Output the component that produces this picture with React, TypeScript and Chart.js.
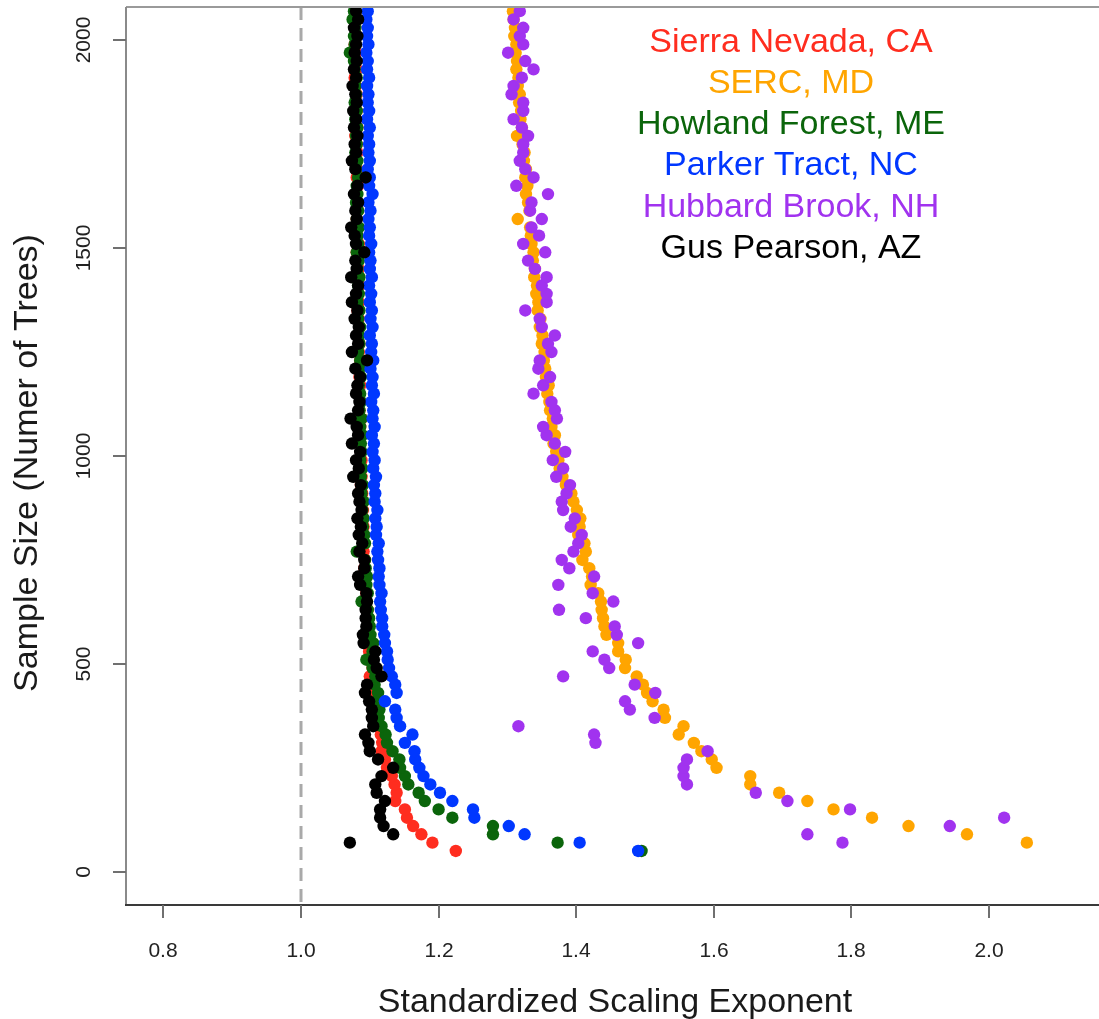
import React, { useEffect, useRef } from "react";
import { Chart, registerables } from "chart.js";

Chart.register(...registerables);

// Sample size (number of trees) for each subsample
const SAMPLE_SIZES = [
  50, 70, 90, 110, 130, 150, 170, 190, 210, 230,
  250, 270, 290, 310, 330, 350, 370, 390, 410, 430,
  450, 470, 490, 510, 530, 550, 570, 590, 610, 630,
  650, 670, 690, 710, 730, 750, 770, 790, 810, 830,
  850, 870, 890, 910, 930, 950, 970, 990, 1010, 1030,
  1050, 1070, 1090, 1110, 1130, 1150, 1170, 1190, 1210, 1230,
  1250, 1270, 1290, 1310, 1330, 1350, 1370, 1390, 1410, 1430,
  1450, 1470, 1490, 1510, 1530, 1550, 1570, 1590, 1610, 1630,
  1650, 1670, 1690, 1710, 1730, 1750, 1770, 1790, 1810, 1830,
  1850, 1870, 1890, 1910, 1930, 1950, 1970, 1990, 2010, 2030,
  2050, 2070, 2090,
];

// Standardized scaling exponent per sample size (null = no point)
const SIERRA_NEVADA = [
  1.225, 1.191, 1.175, 1.163, 1.154, 1.151, 1.137, 1.139, 1.136, 1.132,
  1.125, 1.122, 1.117, 1.118, 1.116, 1.112, 1.110, 1.107, 1.108, 1.105,
  1.103, 1.100, 1.104, 1.101, 1.099, 1.100, 1.097, 1.098, 1.096, 1.097,
  1.094, 1.095, 1.093, 1.094, 1.092, 1.093, 1.091, 1.092, 1.090, 1.091,
  1.089, 1.090, 1.088, 1.089, 1.087, 1.088, 1.086, 1.088, 1.087, 1.085,
  1.087, 1.086, 1.088, 1.085, 1.086, 1.084, 1.086, 1.085, 1.083, 1.086,
  1.084, 1.085, 1.083, 1.085, 1.084, 1.082, 1.084, 1.083, 1.085, 1.082,
  1.084, 1.083, 1.081, 1.084, 1.082, 1.083, 1.081, 1.083, 1.082, 1.080,
  1.083, 1.081, 1.082, 1.080, 1.082, 1.081, 1.079, 1.082, 1.080, 1.081,
  1.079, 1.081, 1.080, 1.078, 1.081, 1.079, 1.080, 1.078, 1.080, 1.079,
  1.077, 1.079, 1.078,
];

const SERC = [
  null, 2.055, 1.968, 1.883, 1.830, 1.774, 1.736, 1.695, 1.653, 1.653,
  1.604, 1.597, 1.582, 1.571, 1.549, 1.556, 1.529, 1.527, 1.511, 1.503,
  1.497, 1.488, 1.471, 1.472, 1.461, 1.461, 1.444, 1.441, 1.439, 1.437,
  1.436, 1.432, 1.421, 1.423, 1.419, 1.409, 1.414, 1.412, 1.403, 1.405,
  1.406, 1.401, 1.396, 1.393, 1.385, 1.380, 1.376, 1.374, 1.371, 1.367,
  1.369, 1.364, 1.366, 1.362, 1.361, 1.358, 1.360, 1.356, 1.355, 1.353,
  1.354, 1.350, 1.351, 1.347, 1.348, 1.344, 1.345, 1.342, 1.343, 1.339,
  1.340, 1.337, 1.338, 1.335, 1.334, 1.333, 1.315, 1.332, 1.330, 1.327,
  1.329, 1.326, 1.327, 1.324, 1.325, 1.322, 1.314, 1.321, 1.319, 1.320,
  1.317, 1.318, 1.315, 1.316, 1.313, 1.314, 1.312, 1.313, 1.310, 1.311,
  1.309, 1.308, 1.307,
];

const HOWLAND_FOREST = [
  1.495, 1.373, 1.279, 1.279, 1.220, 1.200, 1.180, 1.171, 1.156, 1.151,
  1.144, 1.143, 1.133, 1.125, 1.123, 1.117, 1.113, 1.114, 1.110, 1.112,
  1.107, 1.108, 1.104, 1.095, 1.104, 1.105, 1.101, 1.100, 1.099, 1.097,
  1.088, 1.097, 1.095, 1.096, 1.094, 1.093, 1.081, 1.093, 1.092, 1.090,
  1.091, 1.089, 1.091, 1.088, 1.090, 1.087, 1.089, 1.086, 1.088, 1.087,
  1.089, 1.086, 1.088, 1.085, 1.087, 1.086, 1.084, 1.087, 1.085, 1.086,
  1.083, 1.085, 1.084, 1.086, 1.083, 1.085, 1.082, 1.084, 1.083, 1.085,
  1.082, 1.084, 1.081, 1.083, 1.082, 1.084, 1.081, 1.083, 1.080, 1.082,
  1.081, 1.083, 1.080, 1.082, 1.079, 1.081, 1.080, 1.082, 1.079, 1.081,
  1.078, 1.080, 1.079, 1.081, 1.078, 1.077, 1.071, 1.078, 1.077, 1.079,
  1.075, 1.077, 1.076,
];

const PARKER_TRACT = [
  1.490, 1.405, 1.325, 1.302, 1.252, 1.250, 1.220, 1.202, 1.188, 1.178,
  1.172, 1.166, 1.165, 1.151, 1.162, 1.144, 1.139, 1.137, 1.122, 1.139,
  1.137, 1.132, 1.128, 1.126, 1.125, 1.122, 1.121, 1.118, 1.118, 1.116,
  1.115, 1.117, 1.114, 1.113, 1.114, 1.112, 1.111, 1.113, 1.109, 1.110,
  1.108, 1.111, 1.107, 1.108, 1.106, 1.109, 1.105, 1.107, 1.104, 1.106,
  1.103, 1.107, 1.104, 1.105, 1.102, 1.106, 1.103, 1.104, 1.101, 1.105,
  1.102, 1.103, 1.100, 1.104, 1.101, 1.103, 1.100, 1.102, 1.099, 1.103,
  1.100, 1.101, 1.099, 1.102, 1.099, 1.100, 1.098, 1.101, 1.098, 1.104,
  1.099, 1.100, 1.097, 1.100, 1.098, 1.099, 1.097, 1.100, 1.096, 1.099,
  1.097, 1.098, 1.096, 1.099, 1.096, 1.097, 1.095, 1.098, 1.096, 1.097,
  1.095, 1.097, 1.096,
];

const HUBBARD_BROOK = [
  null, 1.787, 1.736, 1.943, 2.022, 1.798, 1.707, 1.661, 1.561, 1.556,
  1.556, 1.561, 1.591, 1.428, 1.426, 1.316, 1.514, 1.478, 1.471, 1.515,
  1.485, 1.381, 1.448, 1.441, 1.424, 1.490, 1.459, 1.456, 1.414, 1.375,
  1.454, 1.424, 1.374, 1.426, 1.390, 1.379, 1.396, 1.403, 1.408, 1.392,
  1.398, 1.381, 1.379, 1.386, 1.391, 1.371, 1.381, 1.366, 1.384, 1.369,
  1.357, 1.352, 1.372, 1.369, 1.364, 1.338, 1.352, 1.362, 1.345, 1.347,
  1.364, 1.359, 1.369, 1.350, 1.347, 1.326, 1.357, 1.357, 1.350, 1.357,
  1.340, 1.330, 1.355, 1.323, 1.346, 1.335, 1.350, 1.333, 1.335, 1.359,
  1.313, 1.338, 1.326, 1.318, 1.323, 1.323, 1.330, 1.321, 1.309, 1.323,
  1.323, 1.306, 1.309, 1.321, 1.338, 1.326, 1.301, 1.323, 1.318, 1.323,
  1.309, 1.318, 1.315,
];

const GUS_PEARSON = [
  null, 1.071, 1.134, 1.120, 1.115, 1.115, 1.122, 1.110, 1.108, 1.117,
  1.134, 1.112, 1.100, 1.098, 1.093, 1.105, 1.103, 1.103, 1.099, 1.093,
  1.096, 1.117, 1.110, 1.106, 1.108, 1.091, 1.090, 1.095, 1.094, 1.094,
  1.096, 1.095, 1.086, 1.083, 1.092, 1.092, 1.085, 1.089, 1.084, 1.087,
  1.082, 1.088, 1.085, 1.083, 1.087, 1.076, 1.084, 1.080, 1.086, 1.074,
  1.083, 1.081, 1.072, 1.083, 1.085, 1.080, 1.082, 1.086, 1.079, 1.096,
  1.074, 1.083, 1.080, 1.084, 1.078, 1.082, 1.074, 1.080, 1.083, 1.073,
  1.081, 1.079, 1.092, 1.080, 1.078, 1.073, 1.081, 1.079, 1.083, 1.077,
  1.082, 1.094, 1.079, 1.074, 1.080, 1.078, 1.082, 1.077, 1.080, 1.076,
  1.081, 1.079, 1.075, 1.080, 1.077, 1.081, 1.078, 1.080, 1.082, 1.077,
  1.083, 1.080, 1.076,
];

const SITE_NAMES = [
  "Sierra Nevada, CA",
  "SERC, MD",
  "Howland Forest, ME",
  "Parker Tract, NC",
  "Hubbard Brook, NH",
  "Gus Pearson, AZ",
];
const SITE_COLORS = ["#FF2D1F", "#FFA500", "#0B650B", "#0037FF", "#A133EF", "#000000"];
const SITE_VALUES = [SIERRA_NEVADA, SERC, HOWLAND_FOREST, PARKER_TRACT, HUBBARD_BROOK, GUS_PEARSON];

const X_TICKS = [0.8, 1.0, 1.2, 1.4, 1.6, 1.8, 2.0];
const X_TICK_LABELS = ["0.8", "1.0", "1.2", "1.4", "1.6", "1.8", "2.0"];
const Y_TICKS = [0, 500, 1000, 1500, 2000];
const Y_TICK_LABELS = ["0", "500", "1000", "1500", "2000"];
const REFERENCE_EXPONENT = 1.0;
const X_TITLE = "Standardized Scaling Exponent";
const Y_TITLE = "Sample Size (Numer of Trees)";

const FONT = "'Liberation Sans', Arial, Helvetica, sans-serif";

const rAxesPlugin = {
  id: "rAxes",
  beforeDatasetsDraw(chart: any) {
    const { ctx, chartArea: ca, scales } = chart;
    const xp = Math.round(scales.x.getPixelForValue(REFERENCE_EXPONENT));
    ctx.save();
    ctx.strokeStyle = "#a9a9a9";
    ctx.lineWidth = 3;
    ctx.setLineDash([13, 8]);
    ctx.beginPath();
    ctx.moveTo(xp, ca.top);
    ctx.lineTo(xp, ca.bottom);
    ctx.stroke();
    ctx.restore();
  },
  afterDatasetsDraw(chart: any) {
    const { ctx, chartArea: ca, scales } = chart;
    const xs = scales.x;
    const ys = scales.y;
    ctx.save();
    // frame
    ctx.lineWidth = 2;
    ctx.strokeStyle = "#9a9a9a";
    ctx.beginPath();
    ctx.moveTo(ca.left, ca.top);
    ctx.lineTo(ca.right + 2, ca.top);
    ctx.stroke();
    ctx.strokeStyle = "#8a8a8a";
    ctx.beginPath();
    ctx.moveTo(ca.left, ca.top);
    ctx.lineTo(ca.left, ca.bottom);
    ctx.stroke();
    ctx.strokeStyle = "#3a3a3a";
    ctx.beginPath();
    ctx.moveTo(ca.left - 1, ca.bottom);
    ctx.lineTo(ca.right + 2, ca.bottom);
    ctx.stroke();

    // x ticks
    ctx.strokeStyle = "#707070";
    ctx.fillStyle = "#222";
    ctx.font = `21px ${FONT}`;
    ctx.textAlign = "center";
    ctx.textBaseline = "alphabetic";
    X_TICKS.forEach((v, i) => {
      const px = Math.round(xs.getPixelForValue(v));
      ctx.beginPath();
      ctx.moveTo(px, ca.bottom);
      ctx.lineTo(px, ca.bottom + 13);
      ctx.stroke();
      ctx.fillText(X_TICK_LABELS[i], px, ca.bottom + 52);
    });
    // y ticks
    Y_TICKS.forEach((v, i) => {
      const py = Math.round(ys.getPixelForValue(v));
      ctx.beginPath();
      ctx.moveTo(ca.left - 13, py);
      ctx.lineTo(ca.left, py);
      ctx.stroke();
      ctx.save();
      ctx.translate(ca.left - 36, py);
      ctx.rotate(-Math.PI / 2);
      ctx.fillText(Y_TICK_LABELS[i], 0, 0);
      ctx.restore();
    });

    // axis titles
    ctx.fillStyle = "#1a1a1a";
    ctx.font = `34px ${FONT}`;
    ctx.fillText(X_TITLE, 615, ca.bottom + 107);
    ctx.save();
    ctx.translate(37, 463);
    ctx.rotate(-Math.PI / 2);
    ctx.fillText(Y_TITLE, 0, 0);
    ctx.restore();

    // legend text
    SITE_NAMES.forEach((name, i) => {
      ctx.fillStyle = SITE_COLORS[i];
      ctx.fillText(name, 791, 51.5 + i * 41.3);
    });
    ctx.restore();
  },
};

export default function App() {
  const canvasRef = useRef<HTMLCanvasElement | null>(null);

  useEffect(() => {
    if (!canvasRef.current) return;
    const datasets = SITE_VALUES.map((vals, i) => ({
      label: SITE_NAMES[i],
      data: SAMPLE_SIZES.map((n, j) => ({ x: vals[j], y: n })).filter((p) => p.x !== null),
      backgroundColor: SITE_COLORS[i],
      borderColor: SITE_COLORS[i],
      borderWidth: 0,
      pointRadius: 6.2,
      pointHoverRadius: 6.2,
      order: SITE_NAMES.length - i,
      clip: 0,
    }));
    const chart = new Chart(canvasRef.current, {
      type: "scatter",
      data: { datasets },
      options: {
        animation: false,
        responsive: false,
        devicePixelRatio: 1,
        layout: { autoPadding: false, padding: { left: 126, top: 7, right: 0, bottom: 114 } },
        scales: {
          x: { type: "linear", min: 0.74564, max: 2.15988, display: false },
          y: { type: "linear", min: -80, max: 2080, display: false },
        },
        plugins: {
          legend: { display: false },
          tooltip: { enabled: false },
        },
      },
      plugins: [rAxesPlugin],
    } as any);
    return () => chart.destroy();
  }, []);

  return (
    <div style={{ position: "absolute", left: 0, top: 0, width: 1099, height: 1019, background: "#fff" }}>
      <canvas ref={canvasRef} width={1099} height={1019} style={{ width: 1099, height: 1019, display: "block" }} />
    </div>
  );
}
